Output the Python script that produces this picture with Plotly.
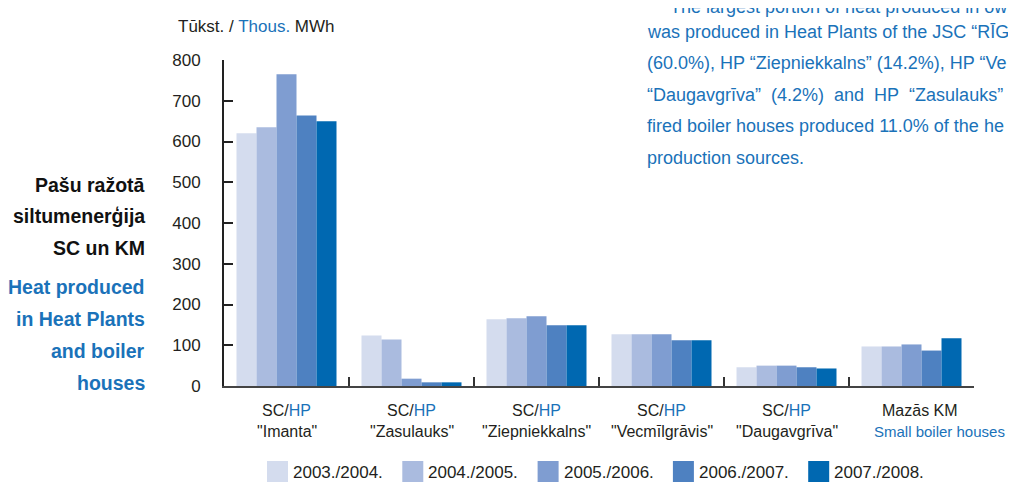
import plotly.graph_objects as go

# ---- data ----
categories = ["Imanta", "Zasulauks", "Ziepniekkalns", "Vecmīlgrāvis", "Daugavgrīva", "Mazās KM"]
label_top = ["SC/<span style='color:#1a72b9'>HP</span>"] * 5 + ["Mazās KM"]
label_bottom = ['"Imanta"', '"Zasulauks"', '"Ziepniekkalns"', '"Vecmīlgrāvis"', '"Daugavgrīva"',
                "<span style='color:#1a72b9'>Small boiler houses</span>"]
seasons = ["2003./2004.", "2004./2005.", "2005./2006.", "2006./2007.", "2007./2008."]
v_2003 = [620, 124, 164, 127, 46, 97]
v_2004 = [635, 114, 166, 127, 50, 97]
v_2005 = [765, 18, 171, 127, 50, 102]
v_2006 = [664, 9, 149, 112, 46, 87]
v_2007 = [650, 9, 149, 112, 43, 117]
series = [v_2003, v_2004, v_2005, v_2006, v_2007]
colors = ["#d4dcee", "#aabbdf", "#7f9dd1", "#4e81c1", "#0068b1"]

y_ticks = [0, 100, 200, 300, 400, 500, 600, 700, 800]

title_lv = ["Pašu ražotā", "siltumenerģija", "SC un KM"]
title_en = ["Heat produced", "in Heat Plants", "and boiler", "houses"]
NB = "\u00a0"
paragraph = [
    "The largest portion of heat produced in own",
    "was produced in Heat Plants of the JSC “RĪGAS",
    "(60.0%), HP “Ziepniekkalns” (14.2%), HP “Ve",
    f"“Daugavgrīva”{NB} (4.2%){NB} and{NB} HP{NB} “Zasulauks”{NB} (",
    "fired boiler houses produced 11.0% of the he",
    "production sources.",
]
paragraph_y = [7, 31.6, 63.2, 94.8, 126.4, 158]

FONT = "Liberation Sans, Arial, sans-serif"
BLUE = "#1a72b9"
DARK = "#231f20"

fig = go.Figure()
for name, vals, col in zip(seasons, series, colors):
    fig.add_trace(go.Bar(x=categories, y=vals, name=name, showlegend=False,
                         marker=dict(color=col, line=dict(width=0))))

# page has an 8px body margin; positions below are given in screen pixels
OFF = 8
W, H = 1016, 482
L, R, T, B = 216, 50, 52, 104
pw, ph = W - L - R, H - T - B


def px(xs):
    return (xs - OFF - L) / pw


def py(ys):
    return (H - B - (ys - OFF)) / ph


ann = []
shapes = []
# y-axis unit title
ann.append(dict(text=f"Tūkst. / <span style='color:{BLUE}'>Thous.</span> MWh", x=px(176), y=py(27),
                xref="paper", yref="paper", xanchor="left", yanchor="middle", showarrow=False,
                font=dict(size=17, color=DARK, family=FONT)))
# left titles
for i, t in enumerate(title_lv):
    ann.append(dict(text=f"<b>{t}</b>", x=px(147), y=py(184.5 + i * 31.5), xref="paper", yref="paper",
                    xanchor="right", yanchor="middle", showarrow=False,
                    font=dict(size=19.5, color="#111111", family=FONT)))
for i, t in enumerate(title_en):
    ann.append(dict(text=f"<b>{t}</b>", x=px(147), y=py(286.5 + i * 32), xref="paper", yref="paper",
                    xanchor="right", yanchor="middle", showarrow=False,
                    font=dict(size=19.5, color=BLUE, family=FONT)))
# paragraph
for i, (t, yy) in enumerate(zip(paragraph, paragraph_y)):
    x0 = 668 if i == 0 else 645
    ann.append(dict(text=t, x=px(x0), y=py(yy), xref="paper", yref="paper",
                    xanchor="left", yanchor="middle", showarrow=False,
                    font=dict(size=18, color=BLUE, family=FONT)))
# category labels
for i, c in enumerate(categories):
    last = i == len(categories) - 1
    for j, (txt, ypix) in enumerate([(label_top[i], 410.5), (label_bottom[i], 431)]):
        ann.append(dict(text=txt, x=c, y=py(ypix), xref="x", yref="paper",
                        xanchor="left" if last else "center", yanchor="middle", showarrow=False,
                        xshift=(-32 if j == 0 else -40) if last else 0,
                        font=dict(size=(16 if j == 0 else 15) if last else 16, color=DARK, family=FONT)))
# legend (custom)
for k, (name, col) in enumerate(zip(seasons, colors)):
    x0 = 267 + k * 135.3
    shapes.append(dict(type="rect", xref="paper", yref="paper", x0=px(x0), x1=px(x0 + 21),
                       y0=py(461), y1=py(482), fillcolor=col, line=dict(width=0)))
    ann.append(dict(text=name, x=px(x0 + 24), y=py(472), xref="paper", yref="paper",
                    xanchor="left", yanchor="middle", showarrow=False,
                    font=dict(size=17, color=DARK, family=FONT)))

fig.update_layout(
    width=W, height=H,
    margin=dict(l=L, r=R, t=T, b=B, pad=0),
    paper_bgcolor="white", plot_bgcolor="white",
    barmode="group", bargap=0.2, bargroupgap=0,
    font=dict(family=FONT, size=17, color=DARK),
    showlegend=False,
    annotations=ann,
    shapes=shapes,
)
fig.update_xaxes(type="category", range=[-0.5, len(categories) - 0.5], showticklabels=False,
                 tickson="boundaries", ticks="inside",
                 ticklen=9, tickwidth=2, tickcolor="#333333", showline=True, linecolor="#444444",
                 linewidth=2, showgrid=False, zeroline=False)
fig.update_yaxes(range=[0, 800], tickvals=y_ticks, ticks="inside", ticklen=9, tickwidth=2,
                 tickcolor="#222222", showline=True, linecolor="#222222", linewidth=2, showgrid=False,
                 zeroline=False, ticklabelstandoff=18, tickfont=dict(size=17, color=DARK, family=FONT))

fig.write_html("out.html")
